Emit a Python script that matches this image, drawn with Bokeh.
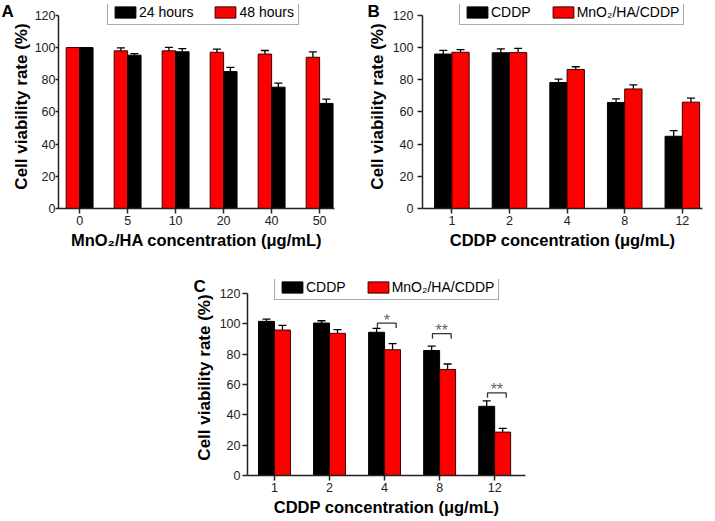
from bokeh.plotting import figure
from bokeh.models import (ColumnDataSource, Range1d, FixedTicker, Whisker, TeeHead,
                          Legend, LegendItem, Spacer)
from bokeh.layouts import row, column
from bokeh.transform import dodge
from bokeh.embed import file_html
from bokeh.resources import INLINE

# ---------------- data ----------------
# Panel A
conc_a = ["0", "5", "10", "20", "40", "50"]
a_24h = [100, 95.3, 97.4, 85.1, 75.4, 65.3]
a_24h_err = [0, 1.0, 2.0, 2.6, 2.5, 2.7]
a_48h = [100, 98.0, 98.0, 97.1, 96.0, 94.0]
a_48h_err = [0, 1.9, 2.2, 2.0, 2.2, 3.3]

# Panel B
conc_b = ["1", "2", "4", "8", "12"]
b_cddp = [96.0, 96.8, 78.3, 65.9, 44.9]
b_cddp_err = [2.3, 2.4, 2.1, 2.3, 3.5]
b_mn = [97.1, 96.9, 86.4, 74.3, 66.1]
b_mn_err = [1.6, 2.6, 1.7, 2.6, 2.5]

# Panel C
conc_c = ["1", "2", "4", "8", "12"]
c_cddp = [101.6, 100.5, 94.4, 82.4, 45.6]
c_cddp_err = [1.5, 1.5, 2.6, 2.9, 3.6]
c_mn = [95.9, 93.7, 82.9, 69.9, 28.6]
c_mn_err = [3.0, 2.4, 4.0, 3.6, 2.5]
sig_cats = ["4", "8", "12"]
sig_marks = ["*", "**", "**"]
sig_heights = [100.5, 93.5, 54.5]

y_ticks = [0, 20, 40, 60, 80, 100, 120]

FONT = "Liberation Sans"
RED = "#ff0000"
BLACK = "#000000"
AXIS_C = "#222222"


def make_panel(letter, cats, series, legend_order, width, height, x_start, x_end,
               y_top, bar_w, xlabel, b_left, b_right, b_top, b_bottom, leg_x,
               letter_offset, ytick_out, ylab_standoff, yaxlab_standoff):
    p = figure(width=width, height=height, output_backend="svg", toolbar_location=None,
               x_range=Range1d(x_start, x_end), y_range=Range1d(0, y_top),
               min_border_left=b_left, min_border_right=b_right,
               min_border_top=b_top, min_border_bottom=b_bottom)
    p.outline_line_color = None
    p.xgrid.visible = False
    p.ygrid.visible = False

    # panel letter as the figure title
    p.title.text = letter
    p.title.align = "left"
    p.title.vertical_align = "bottom"
    p.title.offset = letter_offset
    p.title.standoff = -32
    p.title.text_font = FONT
    p.title.text_font_size = "17px"
    p.title.text_font_style = "bold"
    p.title.text_color = "black"

    rends = {}
    for name, vals, errs, color, lcolor, off in series:
        src = ColumnDataSource(dict(
            x=list(range(len(cats))), top=vals,
            upper=[v + e for v, e in zip(vals, errs)],
            lower=[v - e for v, e in zip(vals, errs)]))
        r = p.vbar(x=dodge("x", off), top="top", bottom=0, width=bar_w, source=src,
                   fill_color=color, line_color=lcolor, line_width=1)
        wk = Whisker(source=src, base=dodge("x", off), upper="upper", lower="lower",
                     line_color="black", line_width=1.3,
                     upper_head=TeeHead(size=8, line_color="black", line_width=1.3),
                     lower_head=TeeHead(size=8, line_color="black", line_width=1.3))
        p.add_layout(wk)
        rends[name] = r

    # axes
    p.yaxis.ticker = FixedTicker(ticks=y_ticks)
    p.yaxis.bounds = (0, 120)
    p.xaxis.ticker = FixedTicker(ticks=list(range(len(cats))))
    p.xaxis.major_label_overrides = {i: c for i, c in enumerate(cats)}
    for ax in (p.xaxis[0], p.yaxis[0]):
        ax.axis_line_color = AXIS_C
        ax.axis_line_width = 1.5
        ax.major_tick_line_color = AXIS_C
        ax.major_tick_line_width = 1.5
        ax.major_tick_in = 0
        ax.minor_tick_line_color = None
        ax.major_label_text_font = FONT
        ax.major_label_text_font_size = "12.5px"
        ax.major_label_text_color = AXIS_C
        ax.axis_label_text_font = FONT
        ax.axis_label_text_font_style = "bold"
        ax.axis_label_text_color = "black"
    p.xaxis.major_tick_out = 5
    p.yaxis.major_tick_out = ytick_out
    p.xaxis.axis_label_text_font_size = "16.5px"
    p.yaxis.axis_label_text_font_size = "17px"
    p.xaxis.major_label_standoff = 2
    p.xaxis.axis_label_standoff = 3
    p.yaxis.major_label_standoff = ylab_standoff
    p.yaxis.axis_label_standoff = yaxlab_standoff
    p.xaxis.axis_label = xlabel
    p.yaxis.axis_label = "Cell viability rate (%)"

    frame_h = height - b_top - b_bottom
    legend = Legend(
        items=[LegendItem(label=n, renderers=[rends[n]]) for n in legend_order],
        orientation="horizontal", location=(leg_x, frame_h - 22),
        padding=4, spacing=19, margin=0,
        glyph_width=26, glyph_height=14, label_height=14, label_standoff=1,
        label_text_font=FONT, label_text_font_size="14px", label_text_color="black",
        border_line_color="#555555", border_line_width=1,
        background_fill_color="white", background_fill_alpha=1.0)
    p.add_layout(legend)
    return p


# Panel A: red (48 h) on the left, black (24 h) on the right
pA = make_panel("A", conc_a,
                [("48 hours", a_48h, a_48h_err, RED, "#3a0000", -0.14),
                 ("24 hours", a_24h, a_24h_err, BLACK, BLACK, 0.14)],
                ["24 hours", "48 hours"],
                width=355, height=251, x_start=-0.44, x_end=5.31, y_top=126.8,
                bar_w=0.28, xlabel="MnO₂/HA concentration (μg/mL)",
                b_left=58, b_right=21, b_top=4, b_bottom=42, leg_x=49,
                letter_offset=-57, ytick_out=3, ylab_standoff=0, yaxlab_standoff=1)

pB = make_panel("B", conc_b,
                [("CDDP", b_cddp, b_cddp_err, BLACK, BLACK, -0.15),
                 ("MnO₂/HA/CDDP", b_mn, b_mn_err, RED, "#3a0000", 0.15)],
                ["CDDP", "MnO₂/HA/CDDP"],
                width=357, height=251, x_start=-0.51, x_end=4.35, y_top=126.8,
                bar_w=0.30, xlabel="CDDP concentration (μg/mL)",
                b_left=67, b_right=10, b_top=4, b_bottom=42, leg_x=37,
                letter_offset=-55, ytick_out=5, ylab_standoff=4, yaxlab_standoff=3)

pC = make_panel("C", conc_c,
                [("CDDP", c_cddp, c_cddp_err, BLACK, BLACK, -0.145),
                 ("MnO₂/HA/CDDP", c_mn, c_mn_err, RED, "#3a0000", 0.145)],
                ["CDDP", "MnO₂/HA/CDDP"],
                width=348, height=267, x_start=-0.49, x_end=4.56, y_top=129.2,
                bar_w=0.29, xlabel="CDDP concentration (μg/mL)",
                b_left=60, b_right=10, b_top=28, b_bottom=42, leg_x=27,
                letter_offset=-54, ytick_out=5, ylab_standoff=2, yaxlab_standoff=3)

# significance brackets in panel C
bx, by, sx, sy = [], [], [], []
for cat, h in zip(sig_cats, sig_heights):
    i = conc_c.index(cat)
    bx.append([i - 0.13, i - 0.13, i + 0.21, i + 0.21])
    by.append([h - 3.3, h, h, h - 3.3])
    sx.append(i + 0.04)
    sy.append(h)
pC.multi_line(xs=bx, ys=by, line_color="#333333", line_width=1.3)
pC.text(x=sx, y=sy, text=sig_marks, text_align="center", text_baseline="alphabetic",
        y_offset=-3, text_font_size="16px", text_color="#666666")

layout = column(row(pA, pB), row(Spacer(width=187, height=267), pC))

open("out.html", "w").write(file_html(layout, INLINE))
